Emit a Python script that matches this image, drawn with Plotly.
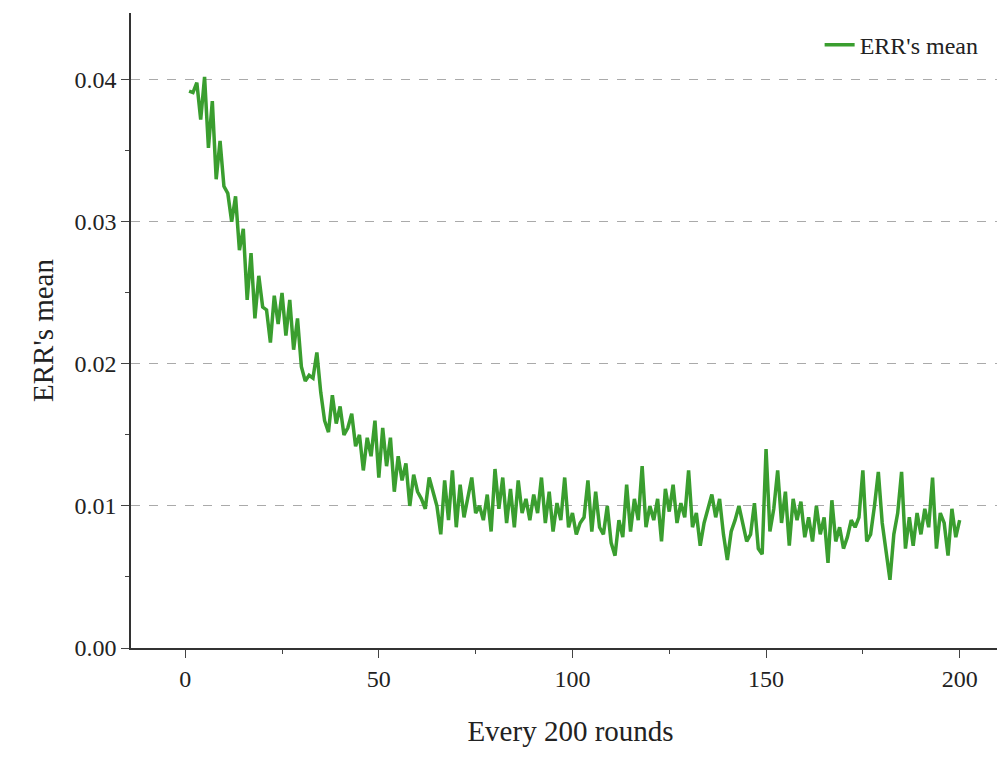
import plotly.graph_objects as go

x_vals = list(range(1, 201))
err_mean = [
0.0392,0.0391,0.0398,0.0372,0.0402,0.0352,0.0385,0.0330,0.0357,0.0325,
0.0320,0.0300,0.0318,0.0280,0.0295,0.0245,0.0278,0.0232,0.0262,0.0240,
0.0238,0.0215,0.0248,0.0228,0.0250,0.0220,0.0245,0.0210,0.0232,0.0198,
0.0188,0.0192,0.0190,0.0208,0.0180,0.0160,0.0152,0.0178,0.0158,0.0170,
0.0150,0.0155,0.0165,0.0142,0.0150,0.0125,0.0148,0.0135,0.0160,0.0120,
0.0155,0.0128,0.0148,0.0110,0.0135,0.0118,0.0130,0.0100,0.0122,0.0110,
0.0105,0.0098,0.0120,0.0110,0.0100,0.0080,0.0118,0.0090,0.0125,0.0085,
0.0115,0.0092,0.0105,0.0120,0.0095,0.0100,0.0090,0.0108,0.0082,0.0126,
0.0098,0.0120,0.0088,0.0112,0.0085,0.0118,0.0095,0.0105,0.0090,0.0108,
0.0095,0.0120,0.0088,0.0110,0.0082,0.0102,0.0090,0.0120,0.0085,0.0095,
0.0080,0.0088,0.0092,0.0118,0.0082,0.0110,0.0085,0.0080,0.0100,0.0074,
0.0065,0.0090,0.0078,0.0115,0.0082,0.0105,0.0090,0.0128,0.0085,0.0100,
0.0090,0.0105,0.0075,0.0112,0.0096,0.0115,0.0088,0.0102,0.0092,0.0125,
0.0085,0.0095,0.0072,0.0088,0.0098,0.0108,0.0092,0.0105,0.0080,0.0062,
0.0082,0.0090,0.0100,0.0088,0.0075,0.0080,0.0102,0.0070,0.0066,0.0140,
0.0082,0.0098,0.0125,0.0088,0.0110,0.0072,0.0105,0.0090,0.0103,0.0078,
0.0092,0.0075,0.0100,0.0080,0.0092,0.0060,0.0104,0.0075,0.0085,0.0070,
0.0078,0.0090,0.0085,0.0092,0.0125,0.0075,0.0080,0.0100,0.0124,0.0088,
0.0070,0.0048,0.0080,0.0095,0.0124,0.0070,0.0092,0.0072,0.0095,0.0080,
0.0098,0.0085,0.0120,0.0070,0.0095,0.0088,0.0065,0.0098,0.0078,0.0090,
]
x_ticks = [0, 50, 100, 150, 200]
y_ticks = [0.00, 0.01, 0.02, 0.03, 0.04]
y_tick_labels = ["0.00", "0.01", "0.02", "0.03", "0.04"]

font = dict(family="Liberation Serif", size=24, color="#222")
fig = go.Figure(go.Scatter(x=x_vals, y=err_mean, mode="lines", name="ERR's mean",
                           line=dict(color="#3a9e2f", width=3.5)))
fig.update_layout(
    width=1005, height=759, plot_bgcolor="white", paper_bgcolor="white",
    font=font, margin=dict(l=123, r=3, t=5, b=119),
    legend=dict(x=0.97, y=0.985, xanchor="right", yanchor="top", bgcolor="rgba(0,0,0,0)",
                font=dict(family="Liberation Serif", size=24)),
    showlegend=True,
)
fig.update_xaxes(range=[-14, 213], tickvals=x_ticks, ticks="outside", ticklen=8, automargin=False,
                 showline=True, linecolor="#333", linewidth=1.5, showgrid=False, zeroline=False,
                 mirror=False,
                 minor=dict(ticks="outside", ticklen=4, dtick=25, tick0=0),
                 title=dict(text="Every 200 rounds", standoff=30))
fig.update_yaxes(range=[0, 0.0447], tickvals=y_ticks, ticktext=y_tick_labels, ticks="outside", ticklen=8,
                 automargin=False,
                 showline=True, linecolor="#333", linewidth=1.5, zeroline=False,
                 showgrid=True, gridcolor="#aaa", griddash="dash", gridwidth=1,
                 minor=dict(ticks="outside", ticklen=4, dtick=0.005, tick0=0, showgrid=False),
                 title=dict(text="ERR's mean", standoff=12))
fig.write_html("out.html")
